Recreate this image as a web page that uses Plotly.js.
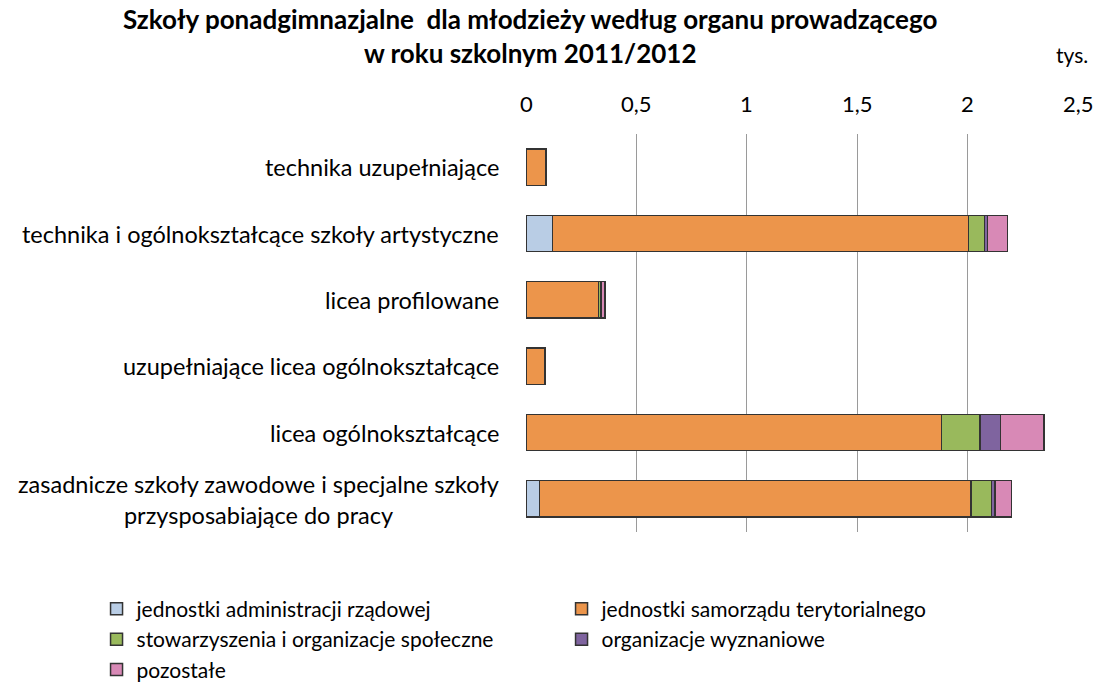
<!DOCTYPE html>
<html><head><meta charset="utf-8">
<script src="https://cdn.plot.ly/plotly-3.0.1.min.js"></script>
<style>body{margin:0;background:#fff}#chart{width:1099px;height:691px}</style>
</head><body><div id="chart"></div>
<script>
var categories = [
  "technika uzupełniające",
  "technika i ogólnokształcące szkoły artystyczne",
  "licea profilowane",
  "uzupełniające licea ogólnokształcące",
  "licea ogólnokształcące",
  "zasadnicze szkoły zawodowe i specjalne szkoły<br>przysposabiające do pracy"
];
var seriesNames = [
  "jednostki administracji rządowej",
  "jednostki samorządu terytorialnego",
  "stowarzyszenia i organizacje społeczne",
  "organizacje wyznaniowe",
  "pozostałe"
];
var administracja = [0, 0.119, 0, 0, 0, 0.062];
var samorzad      = [0.090, 1.885, 0.329, 0.085, 1.881, 1.954];
var stowarzyszenia= [0, 0.073, 0.009, 0, 0.175, 0.092];
var wyznaniowe    = [0, 0.014, 0.002, 0, 0.092, 0.017];
var pozostale     = [0.003, 0.089, 0.017, 0.002, 0.198, 0.073];
var tickVals = [0, 0.5, 1, 1.5, 2, 2.5];
var tickText = ["0", "0,5", "1", "1,5", "2", "2,5"];
var titleText = "<b>Szkoły ponadgimnazjalne  dla młodzieży według organu prowadzącego<br>w roku szkolnym 2011/2012</b>";
var unitText = "tys.";
var colors = ["#B9CDE5", "#EC954B", "#99B95C", "#7F649F", "#D889B6"];
var allSeries = [administracja, samorzad, stowarzyszenia, wyznaniowe, pozostale];

var FONT = "Lato, 'Open Sans', sans-serif";
var traces = allSeries.map(function(vals, i){
  return {
    type: "bar", orientation: "h",
    x: vals, y: categories, name: seriesNames[i],
    marker: {color: colors[i], line: {color: "#333333", width: 1.5}},
    hoverinfo: "x+name"
  };
});

var annotations = categories.map(function(c){
  return {
    text: c, xref: "paper", yref: "y", x: -0.045, y: c,
    yshift: c.indexOf("<br>") >= 0 ? -1 : 0,
    xanchor: "right", align: "center", showarrow: false,
    font: {family: FONT, size: 23.5, color: "#000"}
  };
});
tickVals.forEach(function(v, i){
  annotations.push({
    text: tickText[i], xref: "x", yref: "paper", x: v, y: 1, yshift: 31,
    xanchor: "center", yanchor: "middle", showarrow: false,
    font: {family: FONT, size: 22, color: "#000"}
  });
});
annotations.push({
  text: unitText, xref: "paper", yref: "paper", x: 0.99, y: 1.2,
  xanchor: "center", yanchor: "middle", showarrow: false,
  font: {family: FONT, size: 21, color: "#000"}
});
annotations.push({
  text: titleText, xref: "paper", yref: "paper", x: 0.007, y: 1.247,
  xanchor: "center", yanchor: "middle", align: "center", showarrow: false,
  font: {family: FONT, size: 26, color: "#000"}
});

var layout = {
  width: 1099, height: 691,
  margin: {l: 526, r: 21, t: 134, b: 159, autoexpand: false},
  paper_bgcolor: "#fff", plot_bgcolor: "#fff",
  barmode: "stack", bargap: 0.45,
  xaxis: {
    side: "top", range: [0, 2.5], tickvals: tickVals, ticktext: tickText,
    showticklabels: false,
    showgrid: true, gridcolor: "#9a9a9a", gridwidth: 1,
    zeroline: false, showline: false, ticks: "", automargin: false
  },
  yaxis: {
    type: "category", autorange: "reversed", showticklabels: false,
    showgrid: false, zeroline: false, showline: false, ticks: "", automargin: false
  },
  legend: {
    orientation: "h", x: -0.778, xanchor: "left", y: -0.1425, yanchor: "top",
    entrywidth: 420, entrywidthmode: "pixels", traceorder: "normal",
    font: {family: FONT, size: 21, color: "#000"},
    itemwidth: 30, tracegroupgap: 0
  },
  annotations: annotations,
  showlegend: true
};
Plotly.newPlot("chart", traces, layout, {displayModeBar: false});
</script></body></html>
